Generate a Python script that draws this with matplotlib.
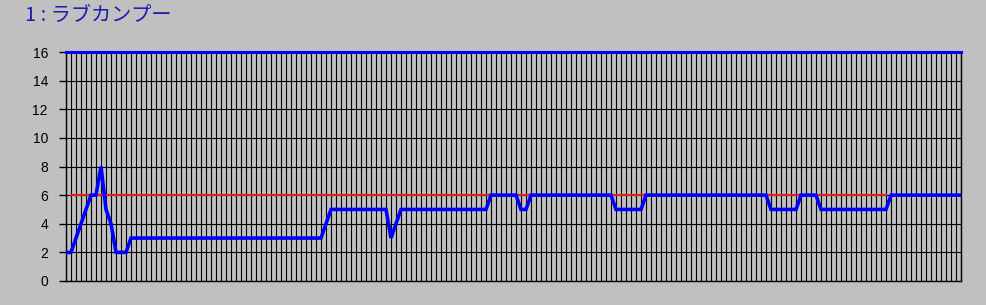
import numpy as np
import matplotlib
matplotlib.use("Agg")
import matplotlib.pyplot as plt

plt.rcParams['font.family'] = ['Noto Sans CJK JP', 'DejaVu Sans']

title = "1 : ラブカンプー"

# blue series, one value per category (180 categories), as runs of (value, count)
runs = [
    (2, 2), (3, 1), (4, 1), (5, 1), (6, 2), (8, 1), (5, 1), (4, 1),
    (2, 3), (3, 39), (4, 1), (5, 12), (3, 1), (4, 1), (5, 18), (6, 6),
    (5, 2), (6, 17), (5, 6), (6, 25), (5, 6), (6, 4), (5, 14), (6, 15),
]
values = []
for v, n in runs:
    values += [v] * n
values = np.array(values)

upper_value = 16          # flat blue line across the top
target_value = 6          # red line
target_start = 1
target_end = 164

y_ticks = [0, 2, 4, 6, 8, 10, 12, 14, 16]

bg = "#c0c0c0"
fig = plt.figure(figsize=(9.87, 3.05), dpi=100, facecolor=bg)
ax = fig.add_axes([66 / 987, 1 - 281 / 305, 895 / 987, 229 / 305])
ax.set_facecolor(bg)

x = np.arange(len(values))
ax.set_xlim(0, len(values) - 1)
ax.set_ylim(0, 16)

ax.set_xticks(x)
ax.set_xticklabels([])
ax.tick_params(axis='x', length=0)
ax.set_yticks(y_ticks)
ax.tick_params(axis='y', length=5, width=1, pad=8, labelsize=10, colors='black')
for lab in ax.get_yticklabels():
    lab.set_family(['Liberation Sans', 'DejaVu Sans'])
ax.grid(True, color='black', linewidth=0.8)
ax.set_axisbelow(True)

for side in ['left', 'bottom', 'right']:
    ax.spines[side].set_color('black')
    ax.spines[side].set_linewidth(1)
ax.spines['top'].set_visible(False)

tx = np.arange(target_start, target_end + 1)
ax.plot(tx, np.full(len(tx), target_value), color='#e02020', linewidth=1.6, zorder=3)
ax.plot(x, np.full(len(x), upper_value), color='#0000ff', linewidth=2.2, zorder=4, clip_on=False)
ax.plot(x, values, color='#0000ff', linewidth=2.6, zorder=5, solid_joinstyle='miter')

fig.text(25 / 987, 1 - 15 / 305, title, color='#1a1ab4', fontsize=14.5, va='center', ha='left')

fig.savefig("out.png", dpi=100, facecolor=bg)
